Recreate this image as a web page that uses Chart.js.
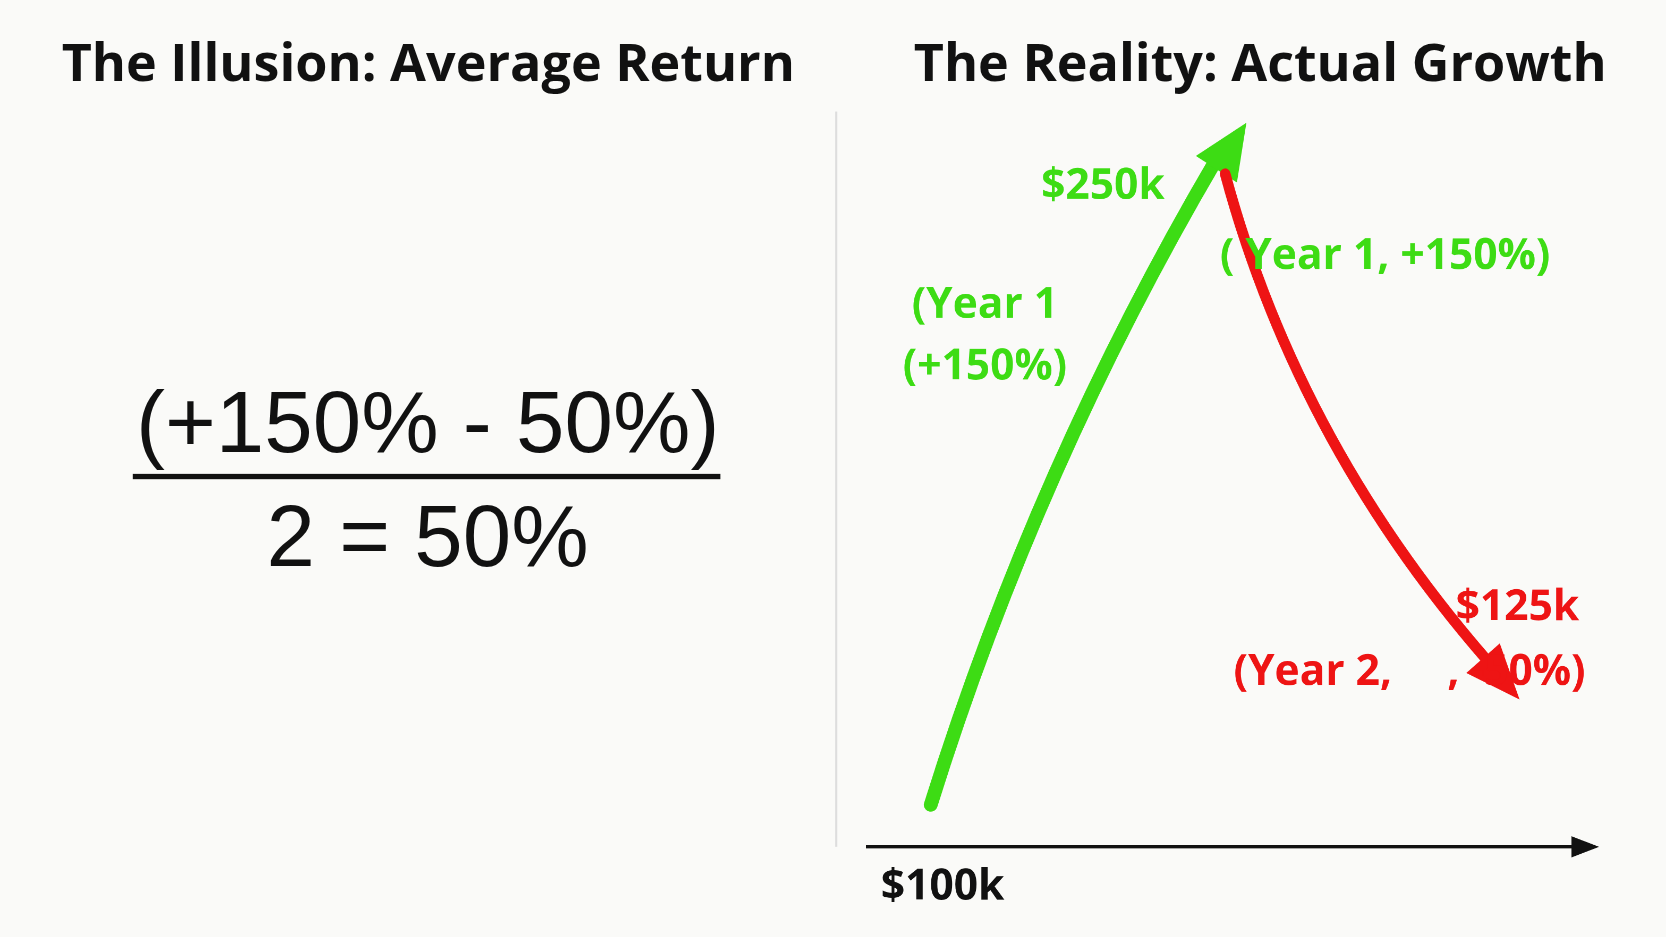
<!DOCTYPE html>
<html>
<head>
<meta charset="utf-8">
<script src="https://cdn.jsdelivr.net/npm/chart.js@4"></script>
<style>
  body { margin: 0; width: 1666px; height: 937px; background: #fafaf8; overflow: hidden; font-family: "Open Sans", "Noto Sans", sans-serif; }
  #stage { position: absolute; left: 0; top: 0; width: 1568px; height: 882px; transform: scale(1.0625); transform-origin: 0 0; }
  .title { position: absolute; top: 24px; font-weight: 700; font-size: 49px; color: #111; white-space: nowrap; }
  .formula { position: absolute; left: 125px; width: 555px; text-align: center; font-family: "Liberation Sans", Arial, sans-serif; color: #111; font-size: 82px; }
  #divider { position: absolute; left: 786px; top: 105px; width: 2px; height: 692px; background: #ddd; }
  #wrap { position: absolute; left: 790px; top: 100px; width: 770px; height: 780px; }
</style>
</head>
<body>
<div id="stage">
<div class="title" style="left:58px">The Illusion: Average Return</div>
<div class="title" style="left:860px">The Reality: Actual Growth</div>
<div class="formula" style="top:350px">(+150% - 50%)</div>
<div style="position:absolute;left:125px;top:446px;width:553px;height:5px;background:#111"></div>
<div class="formula" style="top:458px">2 = 50%</div>
<div id="divider"></div>
<div id="wrap"><canvas id="growthChart"></canvas></div>
</div>
<script>
// données
const years = [0, 1, 2];
const values = [100, 250, 125];
const valueLabels = ['$100k', '$250k', '$125k'];
const GREEN = '#3ddc14';
const RED = '#ee1414';

const arrowHead = (ctx, x, y, ang, len, wid, color) => {
  ctx.save();
  ctx.translate(x, y);
  ctx.rotate(ang);
  ctx.fillStyle = color;
  ctx.beginPath();
  ctx.moveTo(0, 0);
  ctx.lineTo(-len, -wid / 2);
  ctx.lineTo(-len, wid / 2);
  ctx.closePath();
  ctx.fill();
  ctx.restore();
};

const growthPlugin = {
  id: 'growth',
  afterDatasetsDraw(chart) {
    const { ctx, chartArea } = chart;
    const [a, b, c] = chart.getDatasetMeta(0).data;
    const bottom = chartArea.bottom;

    // axe avec flèche
    ctx.save();
    ctx.strokeStyle = '#111';
    ctx.lineWidth = 3;
    ctx.beginPath();
    ctx.moveTo(chartArea.left, bottom);
    ctx.lineTo(chartArea.right - 10, bottom);
    ctx.stroke();
    arrowHead(ctx, chartArea.right, bottom, 0, 26, 20, '#111');

    // montée (vert)
    const g1 = { x: a.x + 100, y: a.y - 320 };
    ctx.lineCap = 'round';
    ctx.strokeStyle = GREEN;
    ctx.lineWidth = 13;
    ctx.beginPath();
    ctx.moveTo(a.x, a.y);
    ctx.quadraticCurveTo(g1.x, g1.y, b.x - 8, b.y - 14);
    ctx.stroke();
    const angG = Math.atan2(b.y - g1.y, b.x - g1.x);
    arrowHead(ctx, b.x + 20, b.y - 48, angG, 52, 46, GREEN);

    // descente (rouge)
    const r1 = { x: b.x + 70, y: b.y + 260 };
    ctx.strokeStyle = RED;
    ctx.lineWidth = 10;
    ctx.beginPath();
    ctx.moveTo(b.x, b.y);
    ctx.quadraticCurveTo(r1.x, r1.y, c.x - 20, c.y - 25);
    ctx.stroke();
    const angR = Math.atan2(c.y - r1.y, c.x - r1.x);
    arrowHead(ctx, c.x, c.y, angR, 52, 42, RED);

    // étiquettes
    ctx.font = 'bold 40px "Open Sans", "Noto Sans", sans-serif';
    ctx.textBaseline = 'middle';
    ctx.textAlign = 'center';
    ctx.fillStyle = GREEN;
    ctx.fillText(valueLabels[1], b.x - 115, b.y + 12);
    ctx.fillText('(Year 1', a.x + 51, a.y - 470);
    ctx.fillText('(+150%)', a.x + 51, a.y - 412);
    ctx.textAlign = 'left';
    ctx.fillText('( Year 1, +150%)', b.x - 5, b.y + 78);
    ctx.fillStyle = RED;
    ctx.textAlign = 'center';
    ctx.fillText(valueLabels[2], c.x - 2, bottom - 225);
    ctx.textAlign = 'right';
    ctx.fillText('(Year 2,', c.x - 120, bottom - 164);
    ctx.textAlign = 'left';
    ctx.fillText(', -50%)', c.x - 68, bottom - 164);
    ctx.fillStyle = '#111';
    ctx.fillText(valueLabels[0], chartArea.left + 14, bottom + 38);
    ctx.restore();
  }
};

new Chart(document.getElementById('growthChart'), {
  type: 'line',
  data: {
    labels: years,
    datasets: [{
      data: years.map((x, i) => ({ x, y: values[i] })),
      showLine: false,
      pointRadius: 0
    }]
  },
  options: {
    responsive: true,
    maintainAspectRatio: false,
    animation: false,
    devicePixelRatio: 2,
    layout: { padding: { left: 25, right: 55, top: 20, bottom: 83 } },
    plugins: { legend: { display: false }, tooltip: { enabled: false } },
    scales: {
      x: { type: 'linear', min: -0.22, max: 2.27, display: false },
      y: { min: 90, max: 261, display: false }
    }
  },
  plugins: [growthPlugin]
});
</script>
</body>
</html>
